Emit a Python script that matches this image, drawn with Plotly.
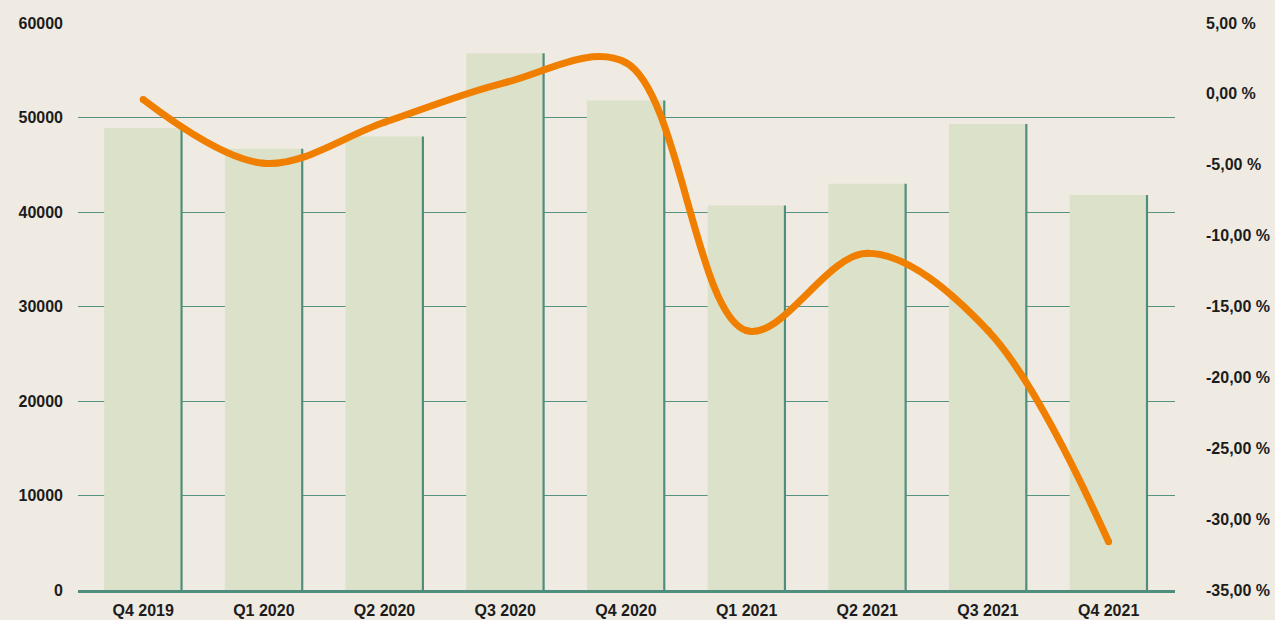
import plotly.graph_objects as go

quarters = ["Q4 2019", "Q1 2020", "Q2 2020", "Q3 2020", "Q4 2020",
            "Q1 2021", "Q2 2021", "Q3 2021", "Q4 2021"]
volume = [48900, 46700, 48000, 56800, 51800, 40700, 43000, 49300, 41800]
change_pct = [-0.4, -4.9, -2.0, 0.8, 2.2, -16.7, -11.25, -16.7, -31.6]

left_ticks = [0, 10000, 20000, 30000, 40000, 50000, 60000]
right_ticks = [5, 0, -5, -10, -15, -20, -25, -30, -35]
right_labels = ["5,00 %", "0,00 %", "-5,00 %", "-10,00 %", "-15,00 %",
                "-20,00 %", "-25,00 %", "-30,00 %", "-35,00 %"]

BG = "#f0ebe2"
BAR = "#dce1c9"
TEAL = "#4f8d7d"
GRID = "#55927f"
ORANGE = "#f07f00"
FONT = dict(family="Liberation Sans", size=16, color="#1c1c1c", weight=700)

fig = go.Figure()

fig.add_trace(go.Bar(
    x=quarters, y=volume, width=0.64, offset=-0.323,
    marker=dict(color=BAR, line=dict(width=0)), yaxis="y", hoverinfo="skip",
))
fig.add_trace(go.Bar(
    x=quarters, y=volume, width=0.018, offset=0.309,
    marker=dict(color=TEAL, line=dict(width=0)), yaxis="y", hoverinfo="skip",
))
fig.add_trace(go.Scatter(
    x=quarters, y=change_pct, yaxis="y2", mode="lines+markers",
    line=dict(color=ORANGE, width=7, shape="spline", smoothing=1.0),
    marker=dict(color=ORANGE, size=7),
))

fig.update_layout(
    width=1275, height=620,
    margin=dict(l=78, r=100, t=23, b=30),
    paper_bgcolor=BG, plot_bgcolor=BG,
    barmode="overlay", showlegend=False,
    xaxis=dict(
        type="category", range=[-0.54, 8.55], automargin=False,
        showgrid=False, showline=True, linecolor=TEAL, linewidth=3,
        ticks="", tickfont=FONT, ticklabelstandoff=4,
    ),
    yaxis=dict(
        range=[0, 60000], tickvals=left_ticks, tickformat="d", automargin=False,
        showgrid=True, gridcolor=GRID, gridwidth=1.2, zeroline=False,
        ticks="", tickfont=FONT, ticklabelstandoff=14,
    ),
    yaxis2=dict(
        range=[-35, 5], tickvals=right_ticks, ticktext=right_labels, automargin=False,
        overlaying="y", side="right", showgrid=False, zeroline=False,
        ticks="", tickfont=FONT, ticklabelstandoff=30,
    ),
)

fig.write_html("out.html", config={"displayModeBar": False},
               post_script="document.body.style.margin='0';document.body.style.overflow='hidden';")
